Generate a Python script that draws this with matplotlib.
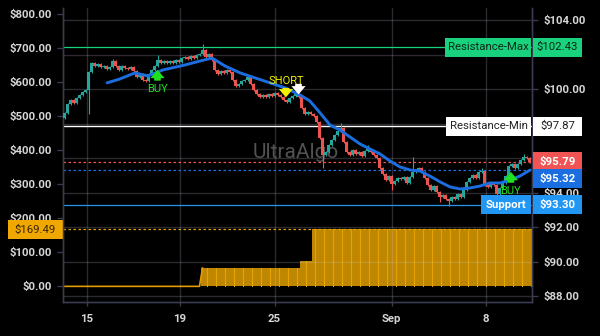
import matplotlib
matplotlib.use("Agg")
import matplotlib.pyplot as plt
import matplotlib.transforms as mtransforms
from matplotlib.patches import Rectangle
import numpy as np

plt.rcParams['font.family'] = ['Roboto', 'DejaVu Sans']

# ---- price candles (close of each bar; open = previous close) ----
first_open = 98.33
closes = [
    98.63, 99.15, 99.38, 99.21, 99.50, 99.67, 99.84, 99.96, 101.00, 101.52,
    101.35, 101.47, 101.29, 101.35, 101.18, 101.29, 101.64, 101.35, 101.12, 101.35,
    101.23, 101.18, 101.29, 101.06, 100.71, 100.89, 100.54, 100.48, 100.89, 101.12,
    101.35, 101.70, 101.52, 101.64, 101.52, 101.64, 101.52, 101.70, 101.58, 101.81,
    101.87, 101.76, 101.93, 101.81, 101.99, 102.05, 102.28, 101.87, 102.05, 101.70,
    101.12, 100.89, 101.06, 100.94, 101.12, 101.00, 100.54, 100.19, 100.31, 100.48,
    100.54, 100.71, 100.31, 99.96, 99.73, 99.55, 99.67, 99.55, 99.73, 99.61,
    99.79, 99.67, 99.55, 99.38, 99.26, 99.50, 99.61, 99.73, 99.55, 98.92,
    98.57, 98.68, 98.57, 98.45, 98.10, 97.18, 96.19, 96.37, 96.77, 97.06,
    97.35, 97.58, 97.76, 96.94, 96.37, 96.19, 96.48, 96.25, 96.37, 96.13,
    96.42, 96.54, 96.37, 96.19, 96.02, 95.44, 95.09, 94.74, 94.97, 94.51,
    94.68, 94.86, 94.80, 94.92, 94.57, 94.92, 95.21, 95.32, 95.44, 95.21,
    94.86, 94.45, 94.16, 94.39, 94.05, 93.76, 93.87, 93.64, 93.52, 93.76,
    93.64, 93.93, 93.76, 94.16, 94.63, 94.86, 95.03, 94.86, 95.21, 95.26,
    94.45, 94.34, 94.57, 94.45, 93.93, 94.28, 94.57, 94.97, 95.55, 95.67,
    95.44, 95.67, 95.90, 96.08, 96.02, 95.79,
]
# long wicks that stand out
wick_highs = {16: 101.76, 31: 101.99, 46: 102.63, 92: 98.05, 101: 96.77,
              116: 96.08, 139: 95.44, 153: 96.25}
wick_lows = {8: 98.57, 86: 95.44, 109: 94.16, 125: 93.47, 128: 93.23, 144: 93.47}
base_wick = 0.06

# ---- moving average (bar position, value) ----
ma_pos = [14.2, 18.5, 23.5, 27.8, 32.8, 40.2, 45.2, 49.2, 53.5, 58.5, 63.5, 68.5,
          73.5, 78.5, 81.8, 85.2, 88.5, 91.8, 95.2, 98.5, 101.8, 105.2, 108.5,
          111.8, 115.2, 118.5, 121.8, 125.2, 128.5, 131.8, 135.2, 138.5, 141.8,
          145.2, 148.5, 151.8, 155.2]
ma_val = [100.37, 100.60, 100.95, 100.77, 101.12, 101.41, 101.64, 101.81, 101.35,
          100.95, 100.66, 100.37, 100.08, 99.67, 99.32, 98.63, 97.93, 97.64, 97.23,
          96.83, 96.54, 96.25, 95.84, 95.50, 95.32, 95.26, 94.97, 94.63, 94.34,
          94.22, 94.28, 94.39, 94.57, 94.57, 94.74, 94.97, 95.32]

# ---- equity steps (left axis) ----
equity_starts = [0, 46, 79, 83]
equity_levels = [0.0, 54.0, 74.0, 169.49]

# ---- levels ----
resistance_max = 102.43
resistance_min = 97.87
support = 93.30
last_price = 95.79
ma_last = 95.32
equity_last = 169.49

# ---- signals (bar position, price of arrow base) ----
buy_pos = [31.0, 148.8]
buy_price = [100.55, 94.63]
short_pos = 73.8
short_price = 100.05
exit_pos = 78.0
exit_price = 100.28

# ---- axis ticks ----
date_pos = [7.5, 38.5, 70.0, 109.0, 140.5]
date_lbl = ["15", "19", "25", "Sep", "8"]
left_ticks = [0, 100, 200, 300, 400, 500, 600, 700, 800]
right_ticks = [88, 90, 92, 94, 96, 98, 100, 102, 104]
right_hidden = [96, 98, 102]   # sit behind the price tags

UP = '#26a69a'
DOWN = '#ef5350'
SPINE = '#3a3a50'
TXT = '#d6d6d6'
GREEN_SIG = '#1fe01f'

n = len(closes)
idx = np.arange(n)
opens = [first_open] + closes[:-1]
highs, lows = [], []
for i in range(n):
    top, bot = max(opens[i], closes[i]), min(opens[i], closes[i])
    highs.append(wick_highs.get(i, top + base_wick))
    lows.append(wick_lows.get(i, bot - base_wick))

equity = np.zeros(n)
for s, v in zip(equity_starts, equity_levels):
    equity[s:] = v

fig = plt.figure(figsize=(6.0, 3.36), dpi=100, facecolor='black')
ax_eq = fig.add_axes([63 / 600, 1 - 302 / 336, 469 / 600, 294 / 336])
ax_eq.set_facecolor('black')
ax_px = ax_eq.twinx()
ax_px.patch.set_visible(False)

x0, x1 = -0.5, 155.83
ax_eq.set_xlim(x0, x1)
ax_eq.set_ylim(-46, 818.5)
ax_px.set_ylim(87.67, 104.71)

# grid (translucent so it shows faintly over the equity fill)
for yv in right_ticks:
    ax_px.axhline(yv, color='#d0d0f0', alpha=0.2, lw=1.0, zorder=1.5)
for xv in date_pos:
    ax_px.axvline(xv, color='#d0d0f0', alpha=0.2, lw=1.0, zorder=1.5)

# equity fill with striped bars
ax_eq.bar(idx, equity, width=1.0, color='#bf8700', linewidth=0, zorder=1)
for sx in np.arange(47.5, n, 3):
    j = min(int(np.ceil(sx)), n - 1)
    ax_eq.plot([sx, sx], [0, equity[j]], color='#e6a300', lw=0.8, zorder=1.1)
ax_eq.plot(np.r_[x0, idx[:47]], np.r_[0, equity[:47]], color='#e39a00', lw=1.2, zorder=1.2)
ax_eq.axhline(equity_last, color='#e6a300', lw=0.9, ls=(0, (2, 2)), zorder=1.3)

# level lines
ax_px.axhline(resistance_max, color='#19d27e', lw=0.9, zorder=2)
ax_px.axhline(resistance_min, color='white', lw=1.0, zorder=2)
ax_px.axhline(support, color='#2196f3', lw=0.9, zorder=2)
ax_px.axhline(last_price, color='#f05050', lw=0.9, ls=(0, (2, 2)), zorder=2)
ax_px.axhline(ma_last, color='#1a6ee0', lw=0.9, ls=(0, (2, 2)), zorder=2)

# watermark
ax_px.text(0.497, 0.51, 'UltraAlgo', transform=ax_px.transAxes, ha='center', va='center',
           fontsize=15, color='#525252', zorder=2.5)

# candles
cols = [UP if c >= o else DOWN for o, c in zip(opens, closes)]
ax_px.vlines(idx, lows, highs, colors=cols, lw=0.8, zorder=3)
bottoms = [min(o, c) for o, c in zip(opens, closes)]
heights = [max(abs(c - o), 0.03) for o, c in zip(opens, closes)]
ax_px.bar(idx, heights, bottom=bottoms, width=0.7, color=cols, linewidth=0, zorder=3.1)

# moving average
ax_px.plot(ma_pos, ma_val, color='#1a6ee0', lw=2.1, zorder=4, solid_capstyle='round')

# signals
ARROW = 'simple,head_length=0.5,head_width=0.85,tail_width=0.4'
def arrow(x, y_from, y_to, color):
    ax_px.annotate('', xy=(x, y_to), xytext=(x, y_from),
                   arrowprops=dict(arrowstyle=ARROW, color=color, lw=0,
                                   mutation_scale=12, shrinkA=0, shrinkB=0), zorder=5)

for bp, bv in zip(buy_pos, buy_price):
    arrow(bp, bv - 0.05, bv + 0.58, GREEN_SIG)
    ax_px.text(bp, bv - 0.52, 'BUY', ha='center', va='center', fontsize=8,
               color=GREEN_SIG, zorder=5)
arrow(short_pos, short_price + 0.03, short_price - 0.52, '#f0f000')
ax_px.text(short_pos, short_price + 0.4, 'SHORT', ha='center', va='center', fontsize=8,
           color='#f0f000', zorder=5)
arrow(exit_pos, exit_price + 0.03, exit_price - 0.58, 'white')

# axes styling
for a in (ax_eq, ax_px):
    a.spines['top'].set_visible(False)
    for s in ('left', 'right', 'bottom'):
        a.spines[s].set_color(SPINE)
        a.spines[s].set_linewidth(1.0)

ax_eq.set_yticks(left_ticks)
ax_eq.set_yticklabels([f'${v:,.2f}' for v in left_ticks])
ax_px.set_yticks(right_ticks)
ax_px.set_yticklabels(['' if v in right_hidden else f'${v:.2f}' for v in right_ticks])
ax_eq.set_xticks(date_pos)
ax_eq.set_xticklabels(date_lbl)
ax_eq.tick_params(axis='y', colors=SPINE, labelcolor=TXT, length=4, width=1, pad=4, labelsize=8.2)
ax_px.tick_params(axis='y', colors=SPINE, labelcolor=TXT, length=4, width=1, pad=4, labelsize=8.2)
ax_eq.tick_params(axis='x', colors=SPINE, labelcolor=TXT, length=3, width=1, pad=6, labelsize=8.2)
for lab in ax_eq.get_yticklabels() + ax_px.get_yticklabels() + ax_eq.get_xticklabels():
    lab.set_fontweight('bold')

# price tags
px_per_unit = 294 / (104.71 - 87.67)
box_h = 19 / px_per_unit
tr_px = mtransforms.blended_transform_factory(ax_px.transAxes, ax_px.transData)
def tag(xa, xb, y, text, bg, fg, ax=ax_px, tr=tr_px, h=box_h, bold=False):
    ax.add_patch(Rectangle((xa, y - h / 2), xb - xa, h, transform=tr, facecolor=bg,
                           edgecolor='none', clip_on=False, zorder=10))
    ax.text((xa + xb) / 2, y, text, transform=tr, ha='center', va='center', fontsize=8.2,
            color=fg, zorder=11, clip_on=False, fontweight='bold' if bold else 'normal')

W = 469.0
ra, rb = 1 + 1 / W, 1 + 50 / W
tag(ra, rb, resistance_max, f'${resistance_max:.2f}', '#19d27e', '#0b2a18')
tag((445 - 63) / W, (531 - 63) / W, resistance_max, 'Resistance-Max', '#19d27e', '#0b2a18')
tag(ra, rb, resistance_min, f'${resistance_min:.2f}', 'white', '#222222')
tag((446 - 63) / W, (531 - 63) / W, resistance_min, 'Resistance-Min', 'white', '#222222')
tag(ra, rb, last_price, f'${last_price:.2f}', '#f05454', 'white', bold=True)
tag(ra, rb, ma_last - 0.52, f'${ma_last:.2f}', '#1a6ee0', 'white', bold=True)
tag(ra, rb, support, f'${support:.2f}', '#2196f3', 'white', bold=True)
tag((481 - 63) / W, (531 - 63) / W, support, 'Support', '#2196f3', 'white', bold=True)

tr_eq = mtransforms.blended_transform_factory(ax_eq.transAxes, ax_eq.transData)
tag(-55 / W, 0, 167.0, f'${equity_last:.2f}', '#f0a800', '#3a2600', ax=ax_eq, tr=tr_eq,
    h=19 / (294 / 864.5))

fig.savefig('out.png', dpi=100, facecolor='black')
